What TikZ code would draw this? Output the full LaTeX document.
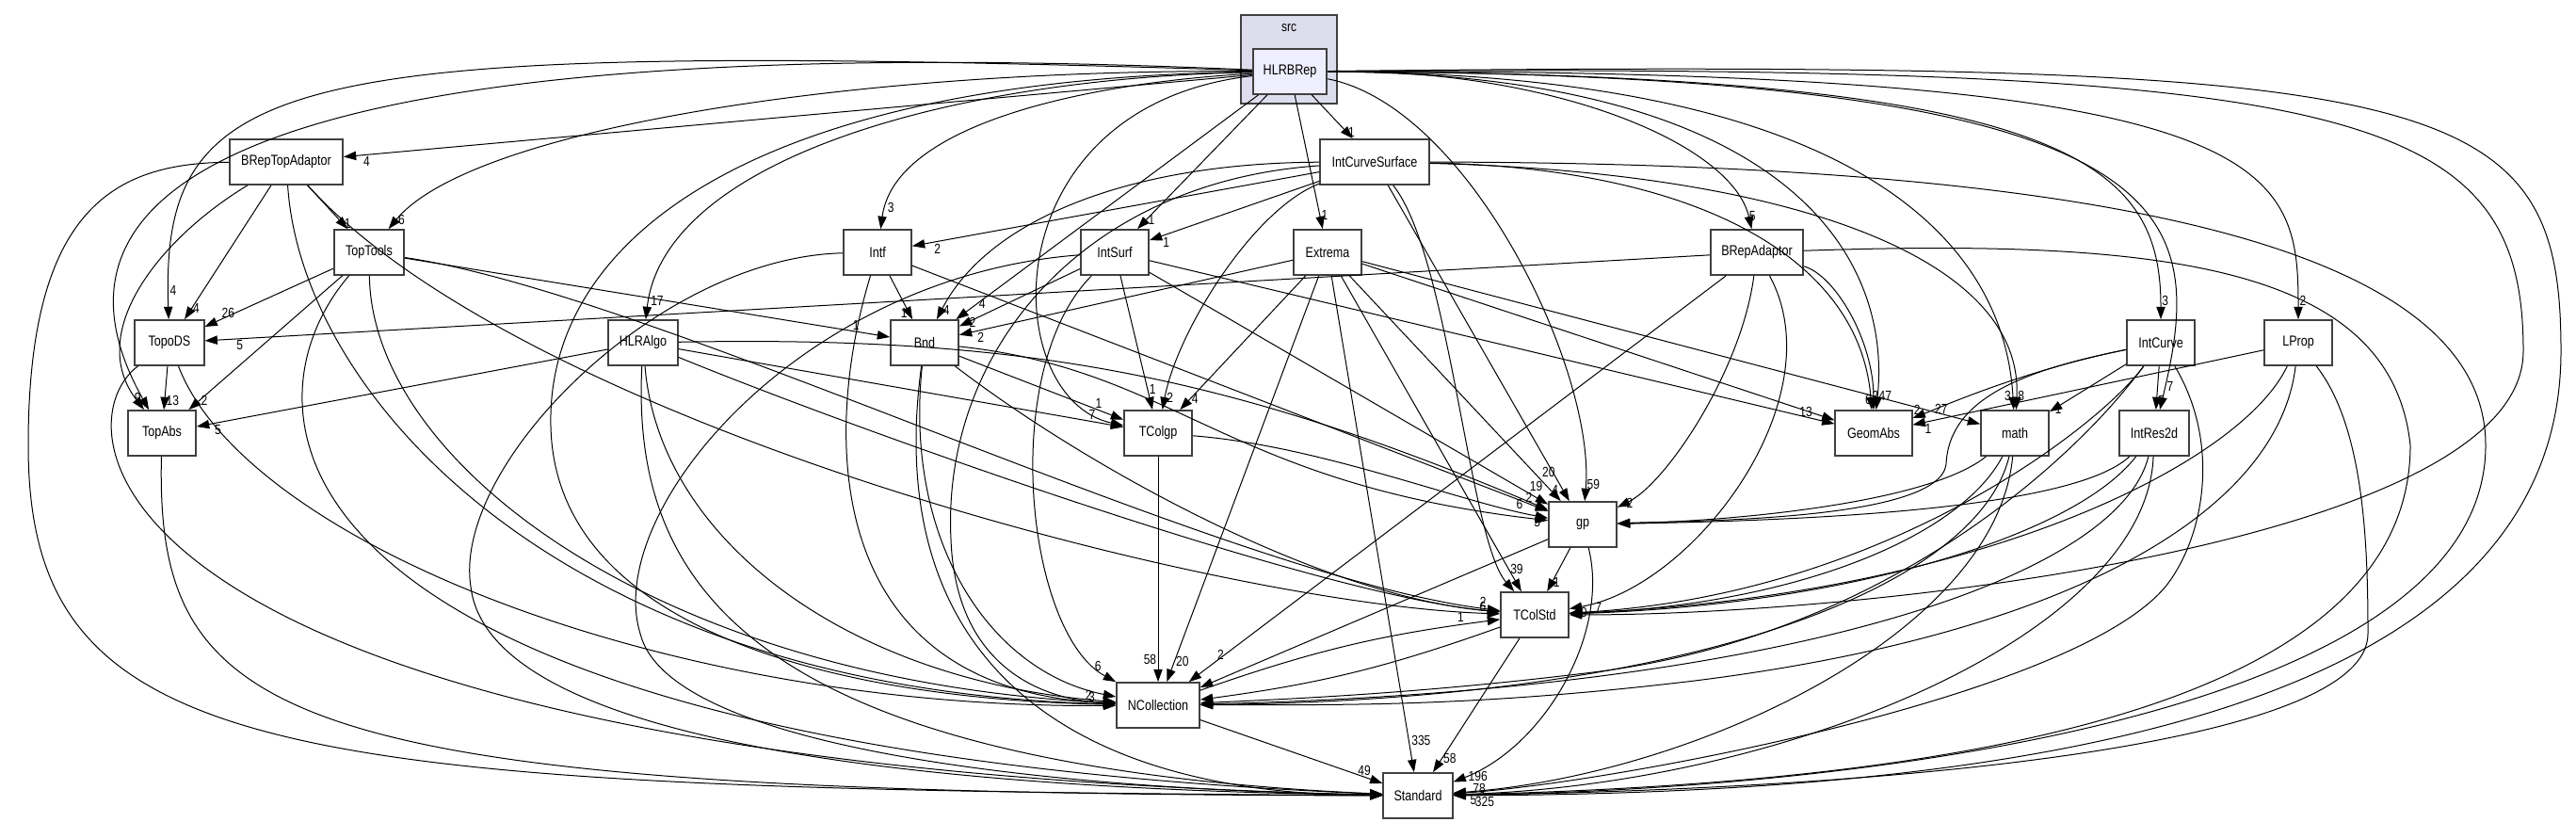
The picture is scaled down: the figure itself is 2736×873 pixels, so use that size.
\documentclass[tikz,border=0pt]{standalone}
\usepackage{fontspec}
\usepackage{xcolor}
\usepackage{tikz}
\usetikzlibrary{arrows.meta,positioning}
\newfontfamily\dirfont[FakeStretch=0.82]{Liberation Sans}
\definecolor{clusterfill}{RGB}{221,221,238}
\definecolor{currentfill}{RGB}{238,238,255}
\definecolor{boxline}{RGB}{64,64,64}

\begin{document}
\begin{tikzpicture}[
    x=0.75pt, y=0.75pt,
    >={Triangle[length=10pt,width=7pt]},
    dir_node/.style={rectangle, draw=boxline, line width=1.3pt, fill=white, minimum height=36pt, inner sep=2pt, font=\dirfont\fontsize{11.5}{13}\selectfont},
    cur_node/.style={dir_node, fill=currentfill},
    cluster_box/.style={draw=boxline, line width=1.3pt, fill=clusterfill},
    dep/.style={->, line width=0.75pt, black},
    num/.style={font=\dirfont\fontsize{11}{13}\selectfont, inner sep=1pt}
]
    \useasboundingbox (0,0) rectangle (2736,873);

    % Cluster
    \draw[cluster_box] (1318,763) rectangle (1420,857);
    \node[num] (srclbl) at (1369,843) {src};

    % Directory Nodes
    \node[cur_node, minimum width=59pt] (HLRBRep) at (1370,797) {HLRBRep};
    \node[dir_node, minimum width=90pt] (BRepTopAdaptor) at (304,701) {BRepTopAdaptor};
    \node[dir_node, minimum width=87pt] (IntCurveSurface) at (1460,701) {IntCurveSurface};
    \node[dir_node, minimum width=56pt] (TopTools) at (392,605) {TopTools};
    \node[dir_node, minimum width=54pt] (Intf) at (932,605) {Intf};
    \node[dir_node, minimum width=54pt] (IntSurf) at (1184,605) {IntSurf};
    \node[dir_node, minimum width=54pt] (Extrema) at (1410,605) {Extrema};
    \node[dir_node, minimum width=74pt] (BRepAdaptor) at (1866,605) {BRepAdaptor};
    \node[dir_node, minimum width=55pt] (TopoDS) at (180,509) {TopoDS};
    \node[dir_node, minimum width=55pt] (HLRAlgo) at (683,509) {HLRAlgo};
    \node[dir_node, minimum width=54pt] (Bnd) at (982,509) {Bnd};
    \node[dir_node, minimum width=54pt] (IntCurve) at (2295,509) {IntCurve};
    \node[dir_node, minimum width=54pt] (LProp) at (2441,509) {LProp};
    \node[dir_node, minimum width=54pt] (TopAbs) at (172,413) {TopAbs};
    \node[dir_node, minimum width=54pt] (TColgp) at (1230,413) {TColgp};
    \node[dir_node, minimum width=61pt] (GeomAbs) at (1990,413) {GeomAbs};
    \node[dir_node, minimum width=54pt] (math) at (2140,413) {math};
    \node[dir_node, minimum width=55pt] (IntRes2d) at (2288,413) {IntRes2d};
    \node[dir_node, minimum width=54pt] (gp) at (1681,316) {gp};
    \node[dir_node, minimum width=54pt] (TColStd) at (1630,220) {TColStd};
    \node[dir_node, minimum width=66pt] (NCollection) at (1230,124) {NCollection};
    \node[dir_node, minimum width=55pt] (Standard) at (1506,28) {Standard};

    % HLRBRep dependencies
    \path[dep]
        (HLRBRep) edge node[num, pos=0.85, right] {1} (IntCurveSurface)
        (HLRBRep) edge node[num, pos=0.9, right] {1} (Extrema)
        (HLRBRep) edge node[num, pos=0.93, right] {1} (IntSurf)
        (HLRBRep) edge node[num, pos=0.98, below right] {4} (BRepTopAdaptor)
        (HLRBRep) edge node[num, pos=0.93, right] {4} (Bnd);
    \draw[dep] (HLRBRep) .. controls (1150,785) and (950,740) .. (Intf) node[num, pos=0.93, right] {3};
    \draw[dep] (HLRBRep) .. controls (900,800) and (500,735) .. (TopTools) node[num, pos=0.97, right] {6};
    \draw[dep] (HLRBRep) .. controls (300,830) and (170,800) .. (TopoDS) node[num, pos=0.96, right] {4};
    \draw[dep] (HLRBRep) .. controls (400,840) and (0,720) .. (TopAbs) node[num, pos=0.985, left] {9};
    \draw[dep] (HLRBRep) .. controls (1000,790) and (705,700) .. (HLRAlgo) node[num, pos=0.96, right] {17};
    \draw[dep] (HLRBRep) .. controls (1050,760) and (1060,450) .. (TColgp);
    \draw[dep] (HLRBRep) .. controls (1560,760) and (1695,480) .. (gp) node[num, pos=0.96, right] {59};
    \draw[dep] (HLRBRep) .. controls (1650,800) and (1840,720) .. (BRepAdaptor) node[num, pos=0.95, right] {5};
    \draw[dep] (HLRBRep) .. controls (1900,795) and (2010,600) .. (GeomAbs) node[num, pos=0.97, right] {47};
    \draw[dep] (HLRBRep) .. controls (2000,795) and (2130,600) .. (math) node[num, pos=0.97, left] {3};
    \draw[dep] (HLRBRep) .. controls (2200,795) and (2295,700) .. (IntCurve) node[num, pos=0.96, right] {3};
    \draw[dep] (HLRBRep) .. controls (2330,795) and (2345,650) .. (IntRes2d) node[num, pos=0.96, right] {7};
    \draw[dep] (HLRBRep) .. controls (2420,800) and (2441,700) .. (LProp) node[num, pos=0.96, right] {2};
    \draw[dep] (HLRBRep) .. controls (2500,805) and (2680,760) .. (2680,500) .. controls (2680,300) and (2000,220) .. (TColStd) node[num, pos=0.97, above] {7};
    \draw[dep] (HLRBRep) .. controls (2600,810) and (2720,780) .. (2720,500) .. controls (2720,100) and (2100,30) .. (Standard) node[num, pos=0.98, below] {325};
    \draw[dep] (HLRBRep) .. controls (800,790) and (580,620) .. (585,420) .. controls (590,200) and (900,130) .. (NCollection) node[num, pos=0.97, above] {3};

    % IntCurveSurface dependencies
    \path[dep]
        (IntCurveSurface) edge node[num, pos=0.95, below right] {2} (Intf)
        (IntCurveSurface) edge node[num, pos=0.93, below right] {1} (IntSurf)
        (IntCurveSurface) edge node[num, pos=0.93, above left] {20} (gp);
    \draw[dep] (IntCurveSurface) .. controls (1200,700) and (1050,640) .. (Bnd) node[num, pos=0.97, right] {4};
    \draw[dep] (IntCurveSurface) .. controls (1330,650) and (1250,520) .. (TColgp) node[num, pos=0.95, right] {2};
    \draw[dep] (IntCurveSurface) .. controls (1540,600) and (1560,300) .. (TColStd);
    \draw[dep] (IntCurveSurface) .. controls (1150,680) and (1000,500) .. (1010,300) .. controls (1015,170) and (1100,130) .. (NCollection);
    \draw[dep] (IntCurveSurface) .. controls (2200,700) and (2640,620) .. (2640,400) .. controls (2640,120) and (2000,35) .. (Standard) node[num, pos=0.98, above] {78};
    \draw[dep] (IntCurveSurface) .. controls (1800,695) and (1975,600) .. (GeomAbs) node[num, pos=0.97, right] {2};
    \draw[dep] (IntCurveSurface) .. controls (1900,690) and (2150,600) .. (math) node[num, pos=0.97, right] {8};

    % BRepTopAdaptor dependencies
    \path[dep]
        (BRepTopAdaptor) edge node[num, pos=0.88, right] {1} (TopTools)
        (BRepTopAdaptor) edge node[num, pos=0.92, right] {4} (TopoDS);
    \draw[dep] (BRepTopAdaptor) .. controls (170,620) and (90,520) .. (TopAbs) node[num, pos=0.97, right] {4};
    \draw[dep] (BRepTopAdaptor) .. controls (120,700) and (30,650) .. (30,400) .. controls (30,60) and (300,35) .. (Standard);
    \draw[dep] (BRepTopAdaptor) .. controls (320,450) and (600,140) .. (NCollection);
    \draw[dep] (BRepTopAdaptor) .. controls (560,420) and (1300,230) .. (TColStd) node[num, pos=0.98, above] {6};

    % TopTools dependencies
    \path[dep]
        (TopTools) edge node[num, pos=0.88, above right] {26} (TopoDS)
        (TopTools) edge node[num, pos=0.93, right] {2} (TopAbs)
        (TopTools) edge node[num, pos=0.93, above] {1} (Bnd);
    \draw[dep] (TopTools) .. controls (700,560) and (1300,260) .. (TColStd) node[num, pos=0.98, above] {2};
    \draw[dep] (TopTools) .. controls (395,380) and (700,150) .. (NCollection) node[num, pos=0.98, above] {2};
    \draw[dep] (TopTools) .. controls (250,440) and (260,80) .. (Standard);

    % Intf dependencies
    \path[dep]
        (Intf) edge node[num, pos=0.85, left] {1} (Bnd)
        (Intf) edge node[num, pos=0.97, above] {2} (gp);
    \draw[dep] (Intf) .. controls (870,400) and (880,140) .. (NCollection);
    \draw[dep] (Intf) .. controls (700,600) and (480,380) .. (500,250) .. controls (520,80) and (1000,35) .. (Standard);

    % IntSurf dependencies
    \path[dep]
        (IntSurf) edge node[num, pos=0.93, right] {2} (Bnd)
        (IntSurf) edge node[num, pos=0.85, right] {1} (TColgp)
        (IntSurf) edge node[num, pos=0.95, above right] {19} (gp)
        (IntSurf) edge node[num, pos=0.97, above left] {13} (GeomAbs);
    \draw[dep] (IntSurf) .. controls (1060,480) and (1090,200) .. (NCollection.north west) node[num, pos=0.95, above left] {6};
    \draw[dep] (IntSurf) .. controls (850,580) and (640,330) .. (680,200) .. controls (710,80) and (1100,35) .. (Standard);

    % Extrema dependencies
    \path[dep]
        (Extrema) edge node[num, pos=0.95, below right] {2} (Bnd)
        (Extrema) edge node[num, pos=0.92, right] {4} (TColgp)
        (Extrema) edge node[num, pos=0.95, right] {4} (gp)
        (Extrema) edge node[num, pos=0.93, right] {39} (TColStd)
        (Extrema) edge node[num, pos=0.95, right] {20} (NCollection)
        (Extrema) edge node[num, pos=0.95, above right] {335} (Standard)
        (Extrema) edge node[num, pos=0.95, above left] {27} (math)
        (Extrema) edge (GeomAbs);

    % BRepAdaptor dependencies
    \path[dep]
        (BRepAdaptor) edge node[num, pos=0.98, below right] {5} (TopoDS)
        (BRepAdaptor) edge node[num, pos=0.95, above right] {2} (NCollection);
    \draw[dep] (BRepAdaptor) .. controls (1950,580) and (1990,510) .. (GeomAbs) node[num, pos=0.95, left] {6};
    \draw[dep] (BRepAdaptor) .. controls (1850,480) and (1770,360) .. (gp) node[num, pos=0.95, right] {2};
    \draw[dep] (BRepAdaptor) .. controls (1950,450) and (1800,250) .. (TColStd) node[num, pos=0.97, below] {10};
    \draw[dep] (BRepAdaptor) .. controls (2300,620) and (2540,590) .. (2560,400) .. controls (2560,100) and (2000,40) .. (Standard);

    % TopoDS, TopAbs, HLRAlgo dependencies
    \path[dep]
        (TopoDS) edge node[num, pos=0.8, right] {13} (TopAbs)
        (HLRAlgo) edge node[num, pos=0.96, below right] {5} (TopAbs)
        (HLRAlgo) edge node[num, pos=0.93, above] {7} (TColgp)
        (HLRAlgo) edge[bend left=12] node[num, pos=0.97, below] {6} (gp);
    \draw[dep] (TopoDS) .. controls (60,420) and (90,60) .. (Standard);
    \draw[dep] (TopoDS) .. controls (260,300) and (700,120) .. (NCollection);
    \draw[dep] (TopAbs) .. controls (165,100) and (300,30) .. (Standard);
    \draw[dep] (HLRAlgo) .. controls (900,420) and (1400,240) .. (TColStd);
    \draw[dep] (HLRAlgo) .. controls (700,300) and (900,150) .. (NCollection);
    \draw[dep] (HLRAlgo) .. controls (670,250) and (800,60) .. (Standard);

    % Bnd, TColgp dependencies
    \path[dep]
        (Bnd) edge node[num, pos=0.85, above] {1} (TColgp)
        (TColgp) edge node[num, pos=0.9, left] {58} (NCollection);
    \draw[dep] (Bnd) .. controls (1150,380) and (1400,240) .. (TColStd);
    \draw[dep] (Bnd) .. controls (1250,480) and (1300,360) .. (gp);
    \draw[dep] (Bnd) .. controls (960,300) and (1050,160) .. (NCollection);
    \draw[dep] (Bnd) .. controls (940,200) and (1100,30) .. (Standard);
    \draw[dep] (TColgp) .. controls (1400,400) and (1550,340) .. (gp) node[num, pos=0.96, below] {5};

    % IntCurve, LProp dependencies
    \path[dep]
        (IntCurve) edge node[num, pos=0.95, right] {1} (math)
        (IntCurve) edge node[num, pos=0.8, right] {5} (IntRes2d)
        (LProp) edge node[num, pos=0.97, below right] {1} (GeomAbs);
    \draw[dep] (IntCurve) .. controls (2150,480) and (2060,440) .. (GeomAbs) node[num, pos=0.95, above] {2};
    \draw[dep] (IntCurve) .. controls (2150,480) and (2070,450) .. (2067,380) .. controls (2060,320) and (1800,320) .. (gp);
    \draw[dep] (IntCurve) .. controls (2230,420) and (2000,240) .. (TColStd);
    \draw[dep] (IntCurve) .. controls (2200,380) and (2000,200) .. (1700,160) .. controls (1500,135) and (1350,130) .. (NCollection);
    \draw[dep] (IntCurve) .. controls (2360,400) and (2340,300) .. (2300,250) .. controls (2200,130) and (1700,40) .. (Standard);
    \draw[dep] (LProp) .. controls (2380,380) and (2100,240) .. (TColStd);
    \draw[dep] (LProp) .. controls (2420,330) and (2200,200) .. (1800,150) .. controls (1550,120) and (1400,125) .. (NCollection);
    \draw[dep] (LProp) .. controls (2510,420) and (2515,300) .. (2515,200) .. controls (2515,80) and (2000,35) .. (Standard);

    % math, IntRes2d dependencies
    \draw[dep] (math) .. controls (2050,340) and (1850,320) .. (gp);
    \draw[dep] (math) .. controls (2080,300) and (1900,230) .. (TColStd);
    \draw[dep] (math) .. controls (2100,250) and (1800,130) .. (NCollection);
    \draw[dep] (math) .. controls (2120,200) and (1800,50) .. (Standard);
    \draw[dep] (IntRes2d) .. controls (2200,330) and (1900,320) .. (gp);
    \draw[dep] (IntRes2d) .. controls (2200,300) and (1950,230) .. (TColStd);
    \draw[dep] (IntRes2d) .. controls (2250,260) and (1900,140) .. (NCollection);
    \draw[dep] (IntRes2d) .. controls (2280,200) and (1900,40) .. (Standard) node[num, pos=0.98, below] {5};

    % gp, TColStd, NCollection dependencies
    \path[dep]
        (gp) edge node[num, pos=0.8, right] {1} (TColStd)
        (gp) edge (NCollection)
        (TColStd) edge[bend left=6] (NCollection)
        (TColStd) edge node[num, pos=0.9, right] {58} (Standard)
        (NCollection) edge[bend left=6] node[num, pos=0.9, above left] {1} (TColStd)
        (NCollection) edge node[num, pos=0.9, above] {49} (Standard);
    \draw[dep] (gp) .. controls (1710,200) and (1640,80) .. (Standard) node[num, pos=0.95, right] {196};
\end{tikzpicture}
\end{document}
